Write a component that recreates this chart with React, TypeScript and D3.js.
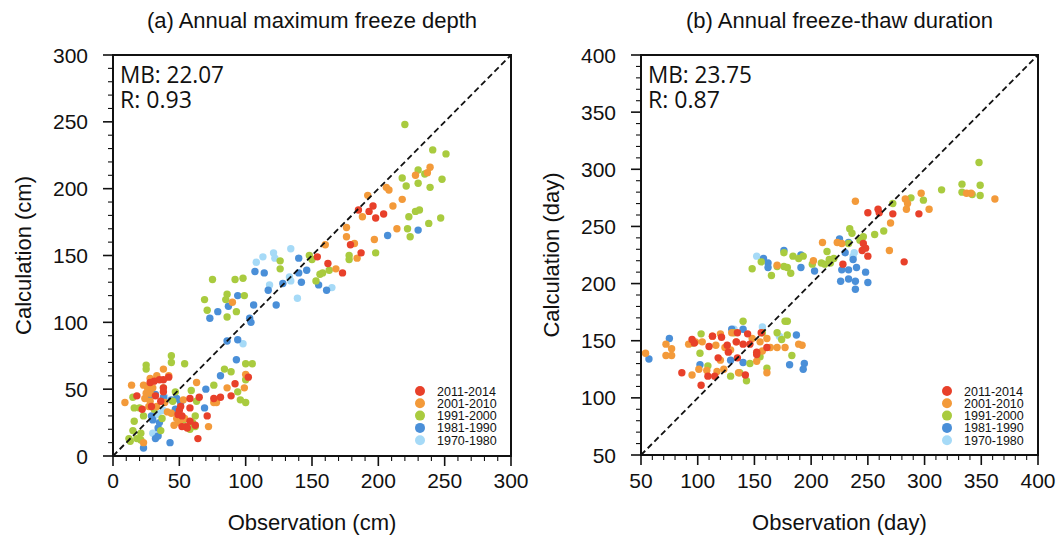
import React from "react";
import * as d3 from "d3";

// ---------- DATA ----------
const periods = ["2011-2014", "2001-2010", "1991-2000", "1981-1990", "1970-1980"];
const periodColors = ["#E8402A", "#F39A3A", "#A9CB3F", "#4A8FD8", "#A6DAF7"];

// Panel (a): annual maximum freeze depth [observation, calculation] (cm)
const depth2011: [number, number][] = [
  [185, 184], [193, 183], [196, 187], [204, 181], [198, 178], [179, 158], [187, 152], [154, 149],
  [162, 144], [173, 137], [92, 54], [102, 59], [81, 44], [89, 45], [76, 43], [65, 44], [58, 43],
  [51, 37], [71, 30], [64, 13], [62, 23], [55, 22], [56, 21], [52, 22], [50, 34], [49, 31],
  [42, 59], [38, 57], [35, 57], [28, 55], [38, 51], [38, 48], [18, 45], [22, 35], [32, 45],
  [36, 41], [29, 37], [58, 26], [31, 56], [52, 30], [58, 36],
];
const depth2001: [number, number][] = [
  [239, 216], [237, 212], [228, 210], [206, 201], [208, 199], [192, 195], [218, 192], [211, 187],
  [188, 179], [214, 170], [176, 171], [176, 164], [182, 159], [197, 162], [160, 158], [184, 148],
  [168, 140], [90, 115], [100, 61], [99, 51], [86, 51], [76, 40], [78, 40], [63, 55], [72, 22],
  [38, 65], [33, 60], [42, 60], [14, 53], [23, 53], [26, 51], [28, 47], [30, 51], [9, 40],
  [24, 43], [27, 37], [23, 10], [44, 32], [48, 28], [50, 25], [54, 28], [39, 40], [33, 37], [46, 23],
  [28, 58], [28, 41], [41, 33], [53, 42], [25, 47],
];
const depth1991: [number, number][] = [
  [220, 248], [241, 229], [251, 226], [230, 214], [235, 211], [218, 208], [221, 202], [230, 204],
  [239, 201], [248, 207], [223, 179], [228, 183], [231, 184], [247, 178], [238, 174], [222, 170],
  [224, 164], [198, 152], [178, 150], [178, 147], [163, 139], [158, 137], [156, 136], [153, 131],
  [148, 150], [150, 147], [126, 146], [126, 140], [75, 132], [92, 132], [98, 133], [69, 117],
  [86, 121], [85, 117], [99, 120], [71, 109], [93, 108], [86, 104], [100, 69], [105, 69], [84, 65],
  [89, 63], [100, 57], [76, 53], [94, 48], [96, 42], [100, 40], [44, 75], [44, 70], [54, 69],
  [25, 68], [25, 65], [38, 51], [59, 49], [47, 48], [16, 36], [16, 26], [23, 30], [21, 17],
  [18, 13], [12, 13], [13, 11], [36, 19], [53, 27], [60, 25], [63, 41], [62, 30], [58, 20],
  [37, 28], [31, 35], [15, 44], [45, 41], [20, 36], [62, 22], [15, 19], [21, 12],
];
const depth1981: [number, number][] = [
  [230, 169], [207, 165], [140, 148], [146, 139], [107, 138], [114, 137], [140, 137], [128, 129],
  [142, 130], [155, 128], [161, 124], [117, 124], [106, 113], [123, 113], [94, 120], [87, 112],
  [79, 108], [73, 103], [103, 103], [104, 100], [86, 86], [94, 87], [93, 72], [81, 60], [70, 50],
  [69, 36], [43, 10], [23, 6], [32, 13], [34, 15], [29, 30], [38, 44], [48, 43], [51, 40],
  [47, 35], [27, 43], [35, 25], [34, 21], [32, 46], [44, 42], [30, 27],
];
const depth1970: [number, number][] = [
  [134, 155], [121, 152], [113, 149], [108, 145], [122, 148], [133, 134], [134, 131], [118, 128],
  [139, 118], [165, 126], [98, 84], [28, 48], [30, 17], [39, 44], [34, 32], [38, 34], [33, 31],
];

// Panel (b): annual freeze-thaw duration [observation, calculation] (day)
const duration2011: [number, number][] = [
  [250, 262], [259, 265], [260, 262], [272, 261], [295, 261], [282, 219], [246, 235], [248, 231],
  [250, 224], [245, 229], [228, 217], [95, 151], [97, 148], [113, 154], [121, 153], [135, 157],
  [144, 156], [156, 157], [134, 149], [140, 147], [126, 146], [110, 145], [127, 140], [152, 140],
  [146, 147], [161, 144], [118, 135], [135, 135], [152, 138], [86, 122], [109, 119], [115, 119],
  [103, 111], [142, 120],
];
const duration2001: [number, number][] = [
  [362, 274], [337, 279], [341, 279], [297, 279], [283, 274], [285, 270], [284, 265], [304, 265],
  [239, 272], [270, 253], [269, 229], [210, 236], [223, 236], [227, 235], [202, 220], [170, 216],
  [54, 139], [72, 147], [77, 143], [72, 137], [77, 137], [92, 147], [98, 149], [104, 149],
  [113, 154], [120, 156], [116, 146], [124, 144], [134, 149], [130, 157], [148, 152], [155, 149],
  [161, 152], [164, 144], [170, 144], [177, 144], [189, 147], [192, 146], [95, 120], [101, 125],
  [108, 124], [117, 123], [123, 125], [161, 122], [152, 132], [157, 141], [136, 122], [129, 142],
  [120, 133],
];
const duration1991: [number, number][] = [
  [348, 306], [333, 287], [349, 286], [315, 282], [333, 280], [342, 278], [349, 277], [299, 273],
  [288, 275], [272, 270], [264, 246], [256, 243], [234, 248], [236, 244], [246, 241], [243, 238],
  [233, 235], [214, 228], [216, 221], [220, 222], [217, 218], [209, 218], [201, 217], [212, 217],
  [176, 227], [184, 224], [193, 224], [189, 222], [176, 215], [179, 214], [182, 209], [156, 219],
  [148, 213], [165, 207], [170, 215], [140, 167], [177, 167], [179, 167], [103, 156], [95, 148],
  [102, 139], [109, 128], [129, 119], [137, 122], [143, 115], [146, 130], [155, 136], [161, 126],
  [170, 157], [174, 151], [179, 155], [183, 137], [157, 157], [132, 157],
];
const duration1981: [number, number][] = [
  [176, 229], [158, 222], [162, 218], [191, 225], [191, 214], [162, 214], [203, 211], [225, 239],
  [233, 236], [230, 227], [227, 212], [233, 212], [240, 214], [226, 202], [233, 204], [239, 202],
  [248, 210], [250, 201], [239, 195], [237, 221], [75, 152], [57, 134], [129, 133], [140, 131],
  [181, 129], [194, 130], [193, 125], [187, 155], [140, 160], [102, 129], [130, 160],
];
const duration1970: [number, number][] = [
  [152, 224], [157, 162], [132, 160], [172, 154], [238, 227], [237, 224],
];

const depthSeries = [depth2011, depth2001, depth1991, depth1981, depth1970];
const durationSeries = [duration2011, duration2001, duration1991, duration1981, duration1970];

const depthTicks = [0, 50, 100, 150, 200, 250, 300];
const durationTicks = [50, 100, 150, 200, 250, 300, 350, 400];

// ---------- COMPONENTS ----------
type PanelProps = {
  title: string;
  xLabel: string;
  yLabel: string;
  domain: [number, number];
  ticks: number[];
  series: [number, number][][];
  mb: string;
  r: string;
  left: number;
  right: number;
  top: number;
  bottom: number;
};

const sans = "'Liberation Sans', Arial, Helvetica, sans-serif";
const statFont = "'Open Sans', 'Noto Sans', sans-serif";

function Panel(p: PanelProps) {
  const x = d3.scaleLinear().domain(p.domain).range([p.left, p.right]);
  const y = d3.scaleLinear().domain(p.domain).range([p.bottom, p.top]);
  const minor = d3.range(p.domain[0], p.domain[1] + 0.001, 10).filter((v) => !p.ticks.includes(v));
  const cx = (p.left + p.right) / 2;
  const cy = (p.top + p.bottom) / 2;
  const order = [4, 3, 2, 1, 0];
  return (
    <g>
      <text x={cx} y={28} textAnchor="middle" fontFamily={sans} fontSize={22} fill="#111">
        {p.title}
      </text>
      {/* points */}
      <g>
        {order.map((si) =>
          p.series[si].map((d, i) => (
            <circle key={`${si}-${i}`} cx={x(d[0])} cy={y(d[1])} r={3.7} fill={periodColors[si]} />
          ))
        )}
      </g>
      {/* 1:1 line */}
      <line
        x1={x(p.domain[0])}
        y1={y(p.domain[0])}
        x2={x(p.domain[1])}
        y2={y(p.domain[1])}
        stroke="#111"
        strokeWidth={1.8}
        strokeDasharray="6,3.5"
      />
      {/* frame */}
      <rect x={p.left} y={p.top} width={p.right - p.left} height={p.bottom - p.top} fill="none" stroke="#111" strokeWidth={2} />
      {/* ticks */}
      {p.ticks.map((t) => (
        <g key={`t${t}`}>
          <line x1={x(t)} x2={x(t)} y1={p.bottom} y2={p.bottom + 10} stroke="#111" strokeWidth={1.6} />
          <line x1={p.left} x2={p.left - 10} y1={y(t)} y2={y(t)} stroke="#111" strokeWidth={1.6} />
          <text x={x(t)} y={488} textAnchor="middle" fontFamily={sans} fontSize={21} fill="#111">
            {t}
          </text>
          <text x={p.left - 25} y={y(t)} dy="0.36em" textAnchor="end" fontFamily={sans} fontSize={21} fill="#111">
            {t}
          </text>
        </g>
      ))}
      {minor.map((t) => (
        <g key={`m${t}`}>
          <line x1={x(t)} x2={x(t)} y1={p.bottom} y2={p.bottom + 5} stroke="#111" strokeWidth={1.1} />
          <line x1={p.left} x2={p.left - 5} y1={y(t)} y2={y(t)} stroke="#111" strokeWidth={1.1} />
        </g>
      ))}
      {/* axis titles */}
      <text x={cx} y={530} textAnchor="middle" fontFamily={sans} fontSize={22} fill="#111">
        {p.xLabel}
      </text>
      <text
        transform={`translate(${p.left - 82},${cy}) rotate(-90)`}
        textAnchor="middle"
        fontFamily={sans}
        fontSize={22}
        fill="#111"
      >
        {p.yLabel}
      </text>
      {/* stats */}
      <text
        x={p.left + 7}
        y={83}
        fontFamily={statFont}
        fontSize={24}
        fill="#111"
        textLength={104}
        lengthAdjust="spacingAndGlyphs"
      >
        {p.mb}
      </text>
      <text
        x={p.left + 7}
        y={108}
        fontFamily={statFont}
        fontSize={24}
        fill="#111"
        textLength={72}
        lengthAdjust="spacingAndGlyphs"
      >
        {p.r}
      </text>
      {/* legend */}
      {periods.map((name, i) => (
        <g key={name}>
          <circle cx={p.right - 91} cy={391 + i * 12.3} r={5} fill={periodColors[i]} />
          <text x={p.right - 74} y={391 + i * 12.3} dy="0.36em" fontFamily={sans} fontSize={12.5} fill="#111">
            {name}
          </text>
        </g>
      ))}
    </g>
  );
}

export default function App() {
  return (
    <svg
      width={1060}
      height={536}
      viewBox="0 0 1060 536"
      style={{ position: "absolute", left: 0, top: 0, background: "#fff" }}
    >
      <rect x={0} y={0} width={1060} height={536} fill="#fff" />
      <Panel
        title="(a) Annual maximum freeze depth"
        xLabel="Observation (cm)"
        yLabel="Calculation (cm)"
        domain={[0, 300]}
        ticks={depthTicks}
        series={depthSeries}
        mb="MB: 22.07"
        r="R: 0.93"
        left={113}
        right={511}
        top={55}
        bottom={456}
      />
      <Panel
        title="(b) Annual freeze-thaw duration"
        xLabel="Observation (day)"
        yLabel="Calculation (day)"
        domain={[50, 400]}
        ticks={durationTicks}
        series={durationSeries}
        mb="MB: 23.75"
        r="R: 0.87"
        left={641}
        right={1038}
        top={55}
        bottom={455}
      />
    </svg>
  );
}
